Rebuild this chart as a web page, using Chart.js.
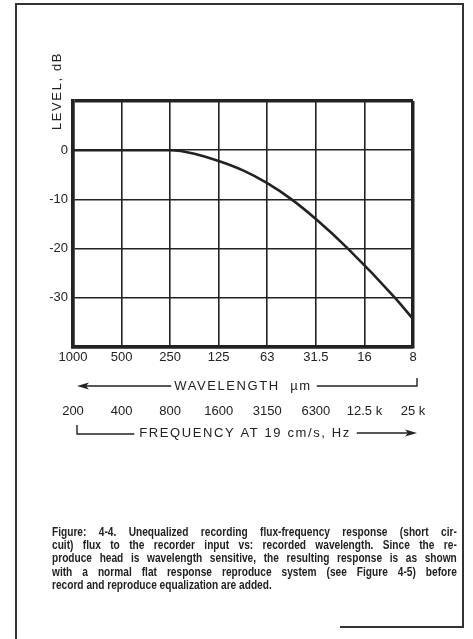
<!DOCTYPE html>
<html>
<head>
<meta charset="utf-8">
<script src="https://cdn.jsdelivr.net/npm/chart.js@4.4.1/dist/chart.umd.min.js"></script>
<style>
  html, body { margin: 0; padding: 0; background: #fff; }
  #page { position: relative; width: 473px; height: 639px; overflow: hidden; }
  #chart { position: absolute; left: 0; top: 0; }
  .rule { position: absolute; background: #333; }
  /* set in a regular bold face, squeezed to a condensed width */
  #caption {
    position: absolute; left: 52px; top: 525px; width: 519px;
    transform: scaleX(0.78); transform-origin: 0 0;
    font: bold 13px "Liberation Sans", Arial, sans-serif;
    line-height: 13.2px; color: #222;
  }
  #caption span { display: block; white-space: nowrap; text-align: justify; text-align-last: justify; }
  #caption span.last { text-align-last: left; }
</style>
</head>
<body>
<div id="page">
  <canvas id="chart" width="473" height="639"></canvas>
  <div class="rule" style="left:15px;top:3px;width:449px;height:2px"></div>
  <div class="rule" style="left:15px;top:4px;width:2px;height:635px"></div>
  <div class="rule" style="left:462px;top:4px;width:2px;height:624px"></div>
  <div class="rule" style="left:340px;top:626px;width:124px;height:2px"></div>
  <div id="caption">
    <span>Figure: 4-4. Unequalized recording flux-frequency response (short cir-</span>
    <span>cuit) flux to the recorder input vs: recorded wavelength. Since the re-</span>
    <span>produce head is wavelength sensitive, the resulting response is as shown</span>
    <span>with a normal flat response reproduce system (see Figure 4-5) before</span>
    <span class="last">record and reproduce equalization are added.</span>
  </div>
</div>
<script>
// octave steps along the axis: 0 = 1000 µm ... 7 = 8 µm
const wavelengthLabels = ['1000', '500', '250', '125', '63', '31.5', '16', '8'];
const frequencyLabels = ['200', '400', '800', '1600', '3150', '6300', '12.5 k', '25 k'];
const levelTicks = [0, -10, -20, -30];

// recorded flux level, dB
const octavePos = [0, 1, 2, 2.5, 3, 3.5, 4, 4.5, 5, 5.66, 6.63, 7];
const levelDb = [0, 0, 0, -0.7, -2.2, -4.1, -6.7, -10, -14, -20, -30, -34.3];

const ink = '#222';
const labelFont = { family: '"Liberation Sans", Arial, sans-serif', size: 13 };

function fixBox(w, h) {
  return s => {
    if (w != null) s.width = w;
    if (h != null) s.height = h;
    s.paddingLeft = 0; s.paddingRight = 0;
    s.paddingTop = 0; s.paddingBottom = 0;
  };
}

function arrowHead(ctx, x, y, dir) {
  ctx.beginPath();
  ctx.moveTo(x, y);
  ctx.lineTo(x - dir * 12, y - 3.5);
  ctx.lineTo(x - dir * 9, y);
  ctx.lineTo(x - dir * 12, y + 3.5);
  ctx.closePath();
  ctx.fill();
}

// axis titles with their arrows, plus the level label
const axisNotes = {
  id: 'axisNotes',
  afterDraw(chart) {
    const { ctx, chartArea } = chart;
    const x = chart.scales.x;
    const left = x.getPixelForValue(0) + 4;
    const right = x.getPixelForValue(7) + 4;
    const mid = (chartArea.left + chartArea.right) / 2;

    ctx.save();
    ctx.fillStyle = ink;
    ctx.strokeStyle = ink;
    ctx.lineWidth = 1.4;
    ctx.font = '13px "Liberation Sans", Arial, sans-serif';
    ctx.letterSpacing = '1.6px';
    ctx.textAlign = 'center';
    ctx.textBaseline = 'middle';

    // wavelength, pointing left
    const yW = 386;
    const tW = 'WAVELENGTH  µm';
    const wW = ctx.measureText(tW).width;
    ctx.fillText(tW, mid, yW);
    ctx.beginPath();
    ctx.moveTo(left + 6, yW); ctx.lineTo(mid - wW / 2 - 3, yW);
    ctx.moveTo(mid + wW / 2 + 5, yW); ctx.lineTo(right, yW); ctx.lineTo(right, yW - 8);
    ctx.stroke();
    arrowHead(ctx, left, yW, -1);

    // frequency, pointing right
    const yF = 433;
    const tF = 'FREQUENCY AT 19 cm/s, Hz';
    const wF = ctx.measureText(tF).width;
    ctx.fillText(tF, mid + 2, yF);
    ctx.beginPath();
    ctx.moveTo(left, yF - 8); ctx.lineTo(left, yF + 1); ctx.lineTo(mid + 2 - wF / 2 - 5, yF + 1);
    ctx.moveTo(mid + 2 + wF / 2 + 6, yF); ctx.lineTo(right - 6, yF);
    ctx.stroke();
    arrowHead(ctx, right, yF, 1);

    // level label, rotated
    ctx.translate(57, 91);
    ctx.rotate(-Math.PI / 2);
    ctx.fillText('LEVEL, dB', 0, 0);
    ctx.restore();
  }
};

const edge = (v, lo, hi) => (v === lo || v === hi ? 3.5 : 1.6);

new Chart(document.getElementById('chart'), {
  type: 'line',
  data: {
    datasets: [{
      data: octavePos.map((p, i) => ({ x: p, y: levelDb[i] })),
      borderColor: ink,
      borderWidth: 2.6,
      pointRadius: 0,
      cubicInterpolationMode: 'monotone',
      fill: false
    }]
  },
  options: {
    responsive: false,
    animation: false,
    devicePixelRatio: 1,
    layout: { padding: { left: 0, top: 101, right: 60, bottom: 194 } },
    plugins: { legend: { display: false }, tooltip: { enabled: false }, title: { display: false } },
    scales: {
      x: {
        type: 'linear', position: 'bottom', min: 0, max: 7,
        afterFit: fixBox(null, 48),
        ticks: {
          stepSize: 1, autoSkip: false, maxRotation: 0, padding: 3,
          color: ink, font: labelFont,
          callback: v => wavelengthLabels[v]
        },
        grid: { color: ink, drawTicks: false, lineWidth: c => edge(c.tick && c.tick.value, 0, 7) },
        border: { display: true, color: ink, width: 3.5 }
      },
      x2: {
        type: 'linear', position: 'bottom', min: 0, max: 7,
        afterFit: fixBox(null, 50),
        ticks: {
          stepSize: 1, autoSkip: false, maxRotation: 0, padding: 9,
          color: ink, font: labelFont,
          callback: v => frequencyLabels[v]
        },
        grid: { display: false, drawTicks: false },
        border: { display: false }
      },
      y: {
        type: 'linear', min: -40, max: 10,
        afterFit: fixBox(73, null),
        ticks: {
          stepSize: 10, padding: 5, color: ink, font: labelFont,
          callback: v => (levelTicks.includes(v) ? String(v) : '')
        },
        grid: { color: ink, drawTicks: false, lineWidth: c => edge(c.tick && c.tick.value, -40, 10) },
        border: { display: true, color: ink, width: 3.5 }
      }
    }
  },
  plugins: [axisNotes]
});
</script>
</body>
</html>
